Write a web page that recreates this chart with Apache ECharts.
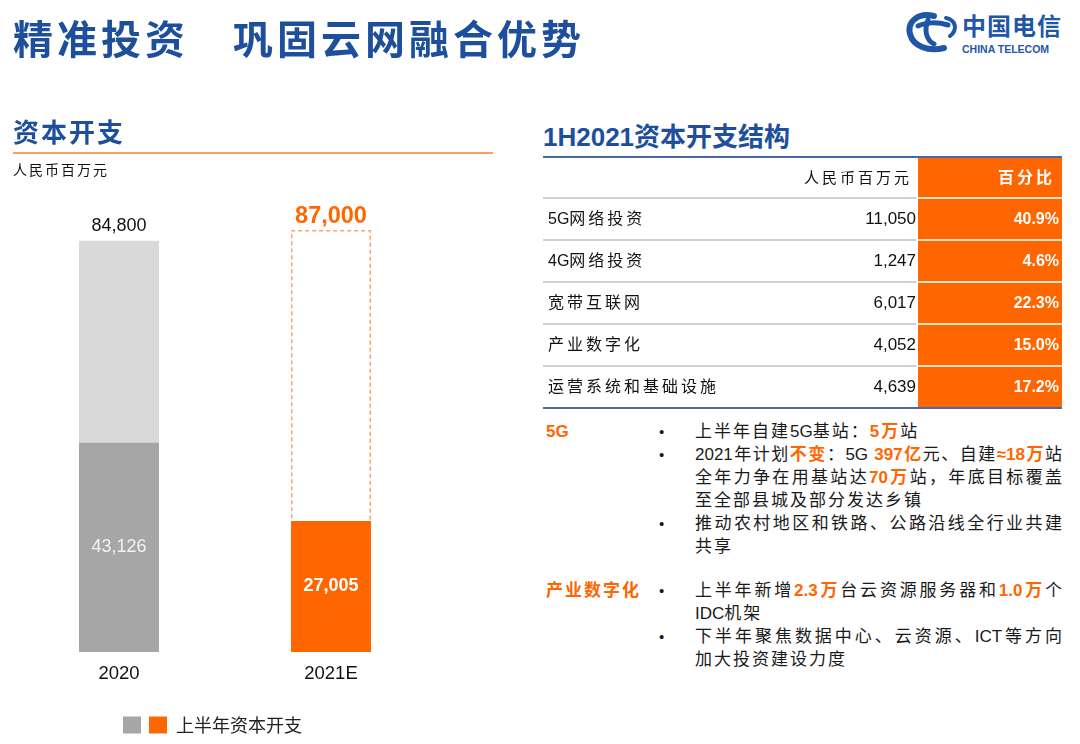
<!DOCTYPE html>
<html>
<head>
    <meta charset="UTF-8">
    <title>精准投资 巩固云网融合优势</title>
    <script src="https://cdn.jsdelivr.net/npm/echarts@6/dist/echarts.min.js"></script>
    <style>
        body, html {
            margin: 0;
            padding: 0;
            width: 1080px;
            height: 744px;
            background: #fff;
            overflow: hidden;
            font-family: "Liberation Sans", "Noto Sans CJK SC", sans-serif;
        }

        .abs {
            position: absolute;
            white-space: nowrap;
        }

        .blue {
            color: #1d4f9c;
            font-weight: 700;
        }

        .org {
            color: #ff6600;
            font-weight: 700;
        }

        .line {
            position: absolute;
            left: 695px;
            height: 23px;
            line-height: 23px;
            font-size: 17px;
            color: #1a1a1a;
            white-space: nowrap;
        }

        .full {
            width: 367px;
            text-align: justify;
            text-align-last: justify;
        }

        .loose {
            letter-spacing: 2px;
        }

        .tight {
            letter-spacing: 0;
        }

        .dot {
            position: absolute;
            left: 659px;
            height: 23px;
            line-height: 23px;
            font-size: 15px;
            color: #1a1a1a;
        }
    </style>
</head>
<body>
<div id="chart" class="abs" style="left:0;top:0;width:540px;height:744px;"></div>

<!-- 页面标题 -->
<div class="abs blue" style="left:13px;top:13px;font-size:40px;line-height:54px;letter-spacing:4px;">精准投资　巩固云网融合优势</div>

<!-- logo -->
<svg class="abs" style="left:904px;top:10px;" width="56" height="46" viewBox="0 0 56 46">
    <path d="M30 6 C14 2 3 12 6 24 C9 36 24 42 40 38" fill="none" stroke="#1f56a8" stroke-width="6" stroke-linecap="round"/>
    <path d="M14 16 C22 12 34 12 44 15" fill="none" stroke="#1f56a8" stroke-width="5" stroke-linecap="round"/>
    <path d="M24 10 C20 20 22 30 30 34" fill="none" stroke="#1f56a8" stroke-width="5" stroke-linecap="round"/>
    <path d="M42 8 C52 10 54 20 46 26" fill="none" stroke="#1f56a8" stroke-width="4" stroke-linecap="round"/>
</svg>
<div class="abs" style="left:962px;top:13px;font-size:24px;line-height:28px;font-weight:700;color:#1f56a8;letter-spacing:1px;">中国电信</div>
<div class="abs" style="left:962px;top:43px;font-size:10.5px;line-height:12px;font-weight:700;color:#1f56a8;">CHINA TELECOM</div>

<!-- 左侧标题 -->
<div class="abs blue" style="left:13px;top:116px;font-size:26px;line-height:34px;letter-spacing:2px;">资本开支</div>
<div class="abs" style="left:13px;top:152px;width:480px;height:2px;background:#f7a066;"></div>
<div class="abs" style="left:13px;top:160px;font-size:14px;line-height:20px;letter-spacing:2px;color:#111;">人民币百万元</div>

<!-- 右侧标题 -->
<div class="abs blue" style="left:543px;top:120px;font-size:26px;line-height:34px;">1H2021资本开支结构</div>
<div id="table"></div>

<!-- 文字说明 -->
<div class="abs org" style="left:546px;top:420px;font-size:17px;line-height:23px;">5G</div>
<div class="dot" style="top:420px;">•</div>
<div class="line loose" style="top:420px;">上半年自建<span class="tight">5G</span>基站：<span class="org">5万</span>站</div>
<div class="dot" style="top:443px;">•</div>
<div class="line full" style="top:443px;">2021年计划<span class="org">不变</span>：5G <span class="org">397亿</span>元、自建<span class="org">≈18万</span>站</div>
<div class="line full" style="top:466px;">全年力争在用基站达<span class="org">70万</span>站，年底目标覆盖</div>
<div class="line loose" style="top:489px;">至全部县城及部分发达乡镇</div>
<div class="dot" style="top:512px;">•</div>
<div class="line full" style="top:512px;">推动农村地区和铁路、公路沿线全行业共建</div>
<div class="line loose" style="top:535px;">共享</div>

<div class="abs org" style="left:546px;top:579px;font-size:17px;line-height:23px;letter-spacing:2px;">产业数字化</div>
<div class="dot" style="top:579px;">•</div>
<div class="line full" style="top:579px;">上半年新增<span class="org">2.3万</span>台云资源服务器和<span class="org">1.0万</span>个</div>
<div class="line loose" style="top:602px;"><span class="tight">IDC</span>机架</div>
<div class="dot" style="top:625px;">•</div>
<div class="line full" style="top:625px;">下半年聚焦数据中心、云资源、ICT等方向</div>
<div class="line loose" style="top:648px;">加大投资建设力度</div>

<script>
    // 柱状图数据
    var years = ['2020', '2021E'];
    var fullYear = [84800, 87000];
    var firstHalf = [43126, 27005];

    // 1H2021 资本开支结构
    var itemNames = ['5G网络投资', '4G网络投资', '宽带互联网', '产业数字化', '运营系统和基础设施'];
    var itemValues = [11050, 1247, 6017, 4052, 4639];
    var itemShares = [40.9, 4.6, 22.3, 15.0, 17.2];

    function fmt(v) {
        return Number(v).toLocaleString('en-US');
    }

    // 拉丁字母不加字距
    function tightLatin(s) {
        return s.replace(/([0-9A-Za-z]+)/g, '<span class="tight">$1</span>');
    }

    // 表格
    var top0 = 157, headH = 41, rowH = 42;
    var html = '';
    html += '<div class="abs" style="left:918px;top:' + top0 + 'px;width:144px;height:' + (headH + rowH * itemNames.length) + 'px;background:#ff6600;"></div>';
    html += '<div class="abs" style="left:543px;top:' + (top0 - 1) + 'px;width:519px;height:2px;background:#4a6aa6;"></div>';
    html += '<div class="abs" style="left:600px;top:' + top0 + 'px;width:312px;height:' + headH + 'px;line-height:' + headH + 'px;text-align:right;font-size:15px;letter-spacing:3px;color:#111;">人民币百万元</div>';
    html += '<div class="abs" style="left:918px;top:' + top0 + 'px;width:137px;height:' + headH + 'px;line-height:' + headH + 'px;text-align:right;font-size:16px;font-weight:700;letter-spacing:3px;color:#fff;">百分比</div>';
    for (var i = 0; i < itemNames.length; i++) {
        var y = top0 + headH + rowH * i;
        html += '<div class="abs" style="left:543px;top:' + (y - 1) + 'px;width:373px;height:2px;background:#cfcfcf;"></div>';
        html += '<div class="abs" style="left:918px;top:' + (y - 1) + 'px;width:144px;height:2px;background:#ffe2cc;"></div>';
        html += '<div class="abs" style="left:548px;top:' + y + 'px;height:' + rowH + 'px;line-height:' + rowH + 'px;font-size:16px;letter-spacing:3px;color:#111;">' + tightLatin(itemNames[i]) + '</div>';
        html += '<div class="abs" style="left:760px;top:' + y + 'px;width:156px;height:' + rowH + 'px;line-height:' + rowH + 'px;text-align:right;font-size:17px;color:#111;">' + fmt(itemValues[i]) + '</div>';
        html += '<div class="abs" style="left:918px;top:' + y + 'px;width:141px;height:' + rowH + 'px;line-height:' + rowH + 'px;text-align:right;font-size:16px;font-weight:700;color:#fff;">' + itemShares[i].toFixed(1) + '%</div>';
    }
    var yEnd = top0 + headH + rowH * itemNames.length;
    html += '<div class="abs" style="left:543px;top:' + (yEnd - 1) + 'px;width:519px;height:2px;background:#4a6aa6;"></div>';
    document.getElementById('table').innerHTML = html;

    // 柱状图
    var chart = echarts.init(document.getElementById('chart'), null, {renderer: 'canvas'});
    var option = {
        animation: false,
        grid: {left: 13, top: 167, width: 424, height: 485},
        legend: {
            left: 123,
            top: 716,
            padding: 0,
            icon: 'rect',
            itemWidth: 18,
            itemHeight: 17,
            itemGap: 8,
            selectedMode: false,
            data: ['2020上半年', '上半年资本开支'],
            formatter: function (name) {
                return name === '上半年资本开支' ? name : '';
            },
            textStyle: {fontSize: 18, color: '#222', fontFamily: 'Noto Sans CJK SC', padding: [0, 0, 0, 4]}
        },
        xAxis: {
            type: 'category',
            data: years,
            axisLine: {show: false},
            axisTick: {show: false},
            axisLabel: {fontSize: 18.5, color: '#111', margin: 12, fontFamily: 'Liberation Sans'}
        },
        yAxis: {type: 'value', min: 0, max: 100000, show: false, splitLine: {show: false}},
        series: [
            {
                name: '全年资本开支',
                type: 'bar',
                barWidth: 80,
                barGap: '-100%',
                z: 1,
                data: fullYear.map(function (v, i) {
                    if (i === 0) {
                        return {
                            value: v,
                            itemStyle: {color: '#d9d9d9'},
                            label: {color: '#111', fontSize: 18}
                        };
                    }
                    return {
                        value: v,
                        itemStyle: {color: '#fff', borderColor: '#fba46a', borderWidth: 1.5, borderType: [4, 3]},
                        label: {color: '#ff6600', fontSize: 23.5, fontWeight: 'bold', distance: 2}
                    };
                }),
                label: {
                    show: true,
                    position: 'top',
                    distance: 6,
                    fontFamily: 'Liberation Sans',
                    formatter: function (p) { return fmt(p.value); }
                }
            },
            {
                name: '2020上半年',
                type: 'bar',
                barWidth: 80,
                barGap: '-100%',
                z: 2,
                itemStyle: {color: '#a6a6a6'},
                data: firstHalf.map(function (v, i) { return i === 0 ? v : '-'; }),
                label: {
                    show: true,
                    position: 'inside',
                    color: '#f2f2f2',
                    fontSize: 18,
                    fontFamily: 'Liberation Sans',
                    formatter: function (p) { return fmt(p.value); }
                }
            },
            {
                name: '上半年资本开支',
                type: 'bar',
                barWidth: 80,
                barGap: '-100%',
                z: 2,
                itemStyle: {color: '#ff6600'},
                data: firstHalf.map(function (v, i) { return i === 1 ? v : '-'; }),
                label: {
                    show: true,
                    position: 'inside',
                    color: '#fff',
                    fontSize: 18,
                    fontWeight: 'bold',
                    fontFamily: 'Liberation Sans',
                    formatter: function (p) { return fmt(p.value); }
                }
            }
        ]
    };
    chart.setOption(option);
</script>
</body>
</html>
